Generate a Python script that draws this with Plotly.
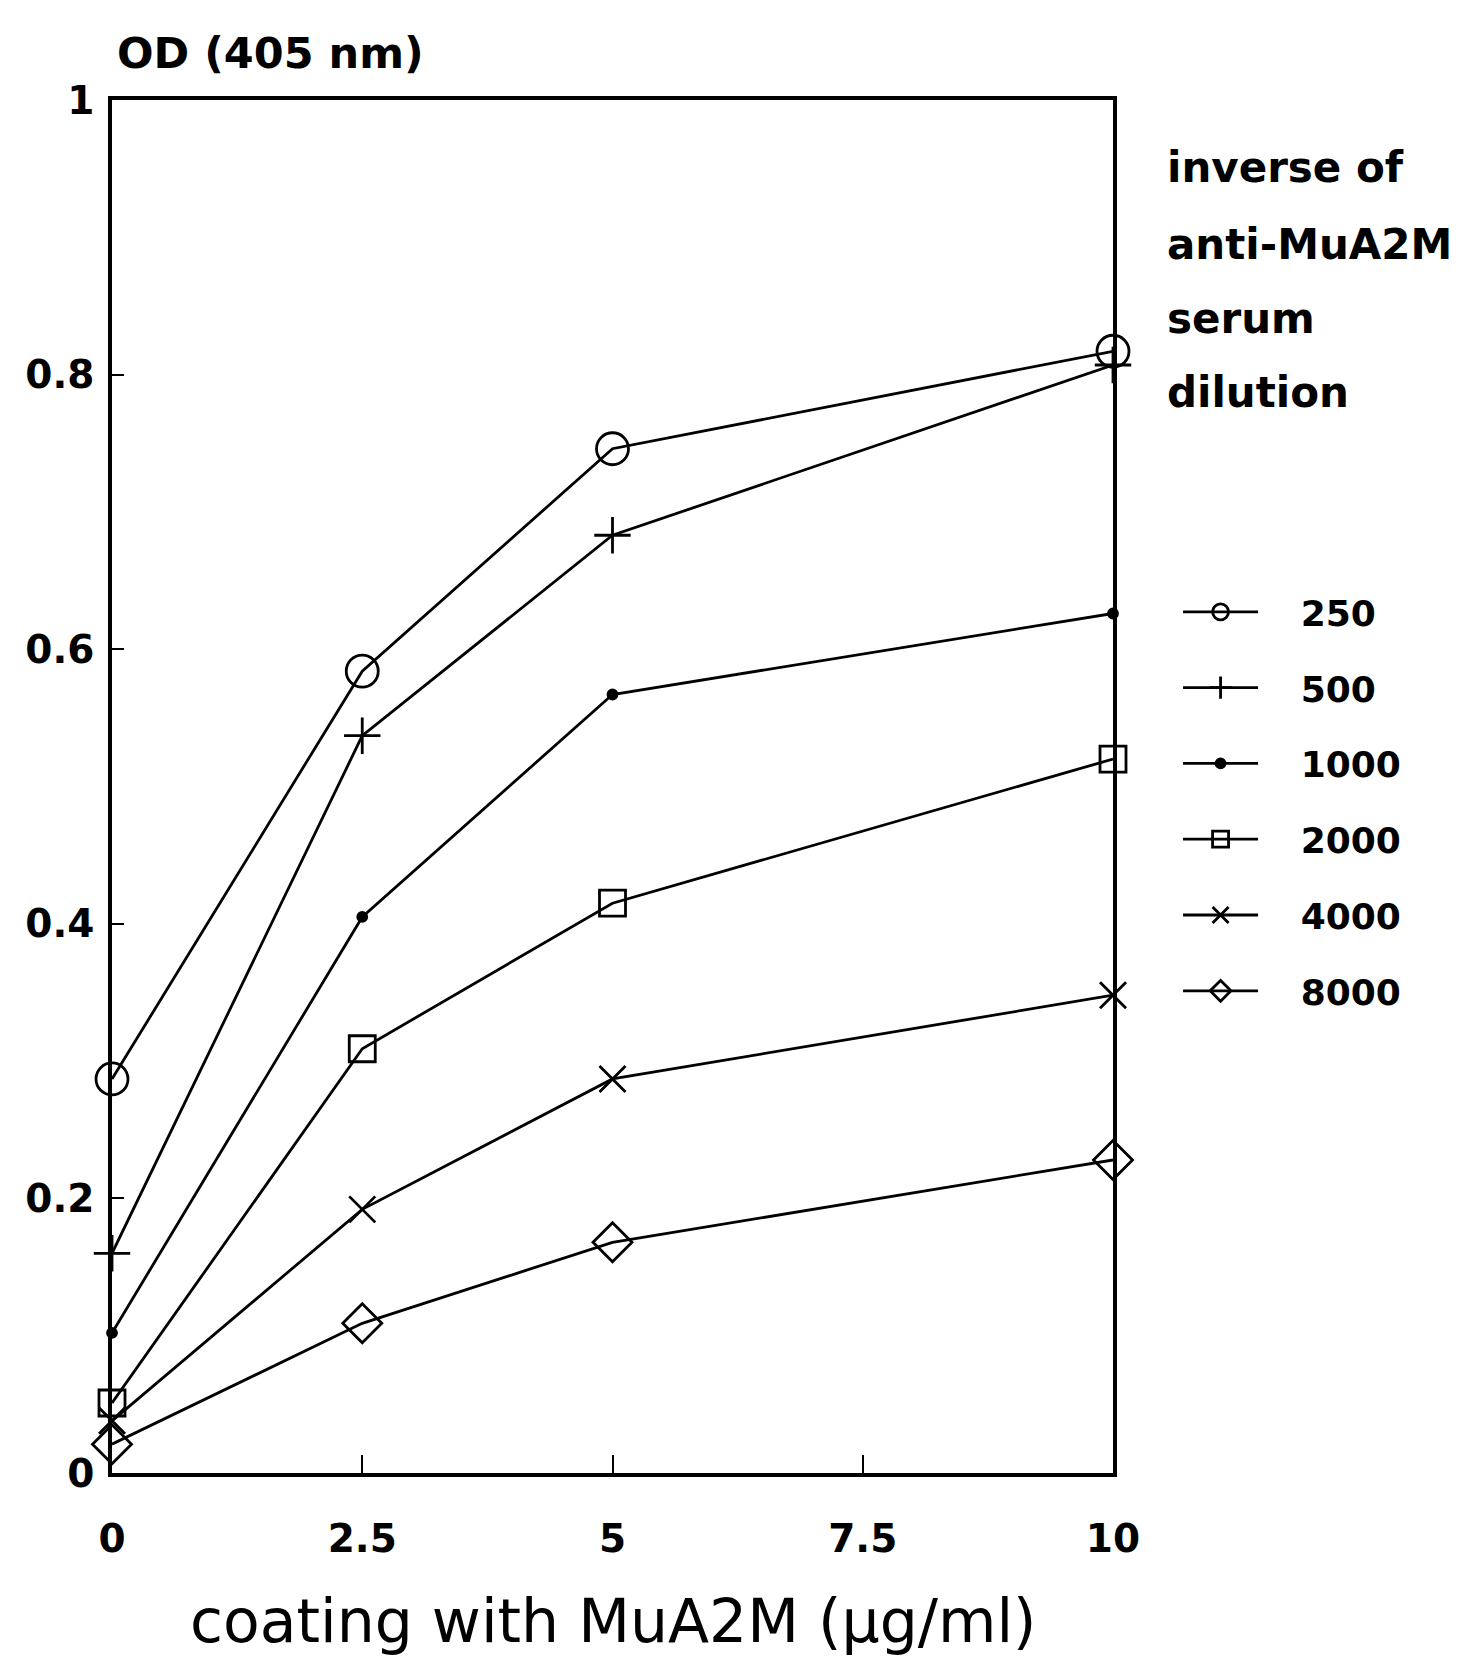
import plotly.graph_objects as go

coating = [0, 2.5, 5, 10]
dilutions = ["250", "500", "1000", "2000", "4000", "8000"]
od_250 = [0.287, 0.584, 0.746, 0.817]
od_500 = [0.160, 0.537, 0.683, 0.807]
od_1000 = [0.102, 0.405, 0.567, 0.626]
od_2000 = [0.051, 0.309, 0.415, 0.520]
od_4000 = [0.038, 0.192, 0.287, 0.348]
od_8000 = [0.021, 0.109, 0.168, 0.228]
series = [od_250, od_500, od_1000, od_2000, od_4000, od_8000]

x_ticks = [0, 2.5, 5, 7.5, 10]
x_ticklabels = ["0", "2.5", "5", "7.5", "10"]
y_ticks = [0, 0.2, 0.4, 0.6, 0.8, 1]
y_ticklabels = ["0", "0.2", "0.4", "0.6", "0.8", "1"]

legend_title_lines = ["inverse of", "anti-MuA2M", "serum", "dilution"]

symbols = ["circle-open", "cross-thin-open", "circle", "square-open", "x-thin-open", "diamond-open"]
sizes = [32, 26, 9, 26, 26, 30]

fig = go.Figure()
for name, vals, sym, sz in zip(dilutions, series, symbols, sizes):
    fig.add_trace(go.Scatter(
        x=coating, y=vals, name="\u00a0\u00a0\u00a0" + name, legendgroup=name,
        mode="lines+markers",
        line=dict(color="black", width=2.8),
        marker=dict(symbol=sym, size=sz, color="black", line=dict(color="black", width=2.8)),
        cliponaxis=False,
    ))

bold = dict(family="DejaVu Sans", size=39, color="black", weight="bold")

fig.update_layout(
    width=1462, height=1664,
    margin=dict(l=112, r=349, t=100, b=191),
    paper_bgcolor="white", plot_bgcolor="white",
    showlegend=True,
    legend=dict(
        x=1.065, y=0.649, xanchor="left", yanchor="top",
        font=dict(family="DejaVu Sans", size=36, color="black", weight="bold"),
        itemwidth=75, tracegroupgap=26, bgcolor="rgba(0,0,0,0)",
    ),
    xaxis=dict(
        range=[0, 10], tickmode="array", tickvals=x_ticks, ticktext=x_ticklabels,
        ticks="inside", ticklen=18, tickwidth=2, tickcolor="black",
        showline=True, linewidth=3.5, linecolor="black", mirror=True,
        showgrid=False, zeroline=False, tickfont=bold, ticklabelstandoff=28,
    ),
    yaxis=dict(
        range=[0, 1], tickmode="array", tickvals=y_ticks, ticktext=y_ticklabels,
        ticks="inside", ticklen=12, tickwidth=2, tickcolor="black",
        showline=True, linewidth=3.5, linecolor="black", mirror=True,
        showgrid=False, zeroline=False, tickfont=bold, ticklabelstandoff=6,
    ),
)

fig.add_annotation(text="OD (405 nm)", xref="paper", yref="paper", x=0.003, y=1,
                   xanchor="left", yanchor="middle", yshift=47, showarrow=False,
                   font=dict(family="DejaVu Sans", size=43, color="black", weight="bold"))

fig.add_annotation(text="coating with MuA2M (μg/ml)", xref="paper", yref="paper", x=0.5, y=0,
                   xanchor="center", yanchor="middle", yshift=-148, showarrow=False,
                   font=dict(family="DejaVu Sans", size=60, color="black"))

title_y = [0.951, 0.8946, 0.8408, 0.787]
for line, yy in zip(legend_title_lines, title_y):
    fig.add_annotation(text=line, xref="paper", yref="paper", x=1.052, y=yy,
                       xanchor="left", yanchor="middle", showarrow=False,
                       font=dict(family="DejaVu Sans", size=42, color="black", weight="bold"))

fig.write_html("out.html")
